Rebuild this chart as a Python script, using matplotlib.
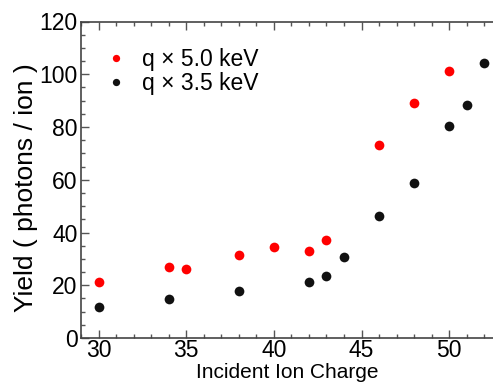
import numpy as np
import matplotlib
matplotlib.use("Agg")
import matplotlib.pyplot as plt
from matplotlib.ticker import MultipleLocator

plt.rcParams['font.family'] = ['Liberation Sans', 'DejaVu Sans']

# q x 5.0 keV series
charge_50 = [30, 34, 35, 38, 40, 42, 43, 46, 48, 50]
yield_50 = [21.1, 26.8, 26.1, 31.4, 34.4, 32.8, 37.0, 73.3, 89.1, 101.1]

# q x 3.5 keV series
charge_35 = [30, 34, 38, 42, 43, 44, 46, 48, 50, 51, 52]
yield_35 = [11.9, 14.9, 17.7, 21.2, 23.5, 30.7, 46.2, 58.6, 80.5, 88.5, 104.1]

labels = ["q \u00d7 5.0 keV", "q \u00d7 3.5 keV"]

fig = plt.figure(figsize=(4.93, 3.87), dpi=100)
ax = fig.add_axes([81 / 493, 49 / 387, 412 / 493, 316.5 / 387])

ax.plot(charge_50, yield_50, 'o', color='#ff0000', markersize=7, mec='none', label=labels[0])
ax.plot(charge_35, yield_35, 'o', color='#111111', markersize=7, mec='none', label=labels[1])

ax.set_xlim(29, 52.5)
ax.set_ylim(0, 120)
ax.xaxis.set_major_locator(MultipleLocator(5))
ax.xaxis.set_minor_locator(MultipleLocator(1))
ax.yaxis.set_major_locator(MultipleLocator(20))
ax.yaxis.set_minor_locator(MultipleLocator(5))

ax.tick_params(which='both', direction='in', top=True, right=False,
               color='#555555', labelsize=16.5)
ax.tick_params(axis='x', pad=1)
ax.tick_params(axis='y', pad=2.5)
ax.tick_params(which='major', length=6, width=1)
ax.tick_params(which='minor', length=3, width=1)

for s in ['left', 'bottom', 'top']:
    ax.spines[s].set_color('#444444')
    ax.spines[s].set_linewidth(1.2)
ax.spines['right'].set_visible(False)

# x label sits right at the bottom edge, like the reference, but kept inside
ax.set_xlabel("Incident Ion Charge", fontsize=15)
ax.set_ylabel("Yield ( photons / ion )", fontsize=19)
ax.xaxis.set_label_coords(0.5, -0.0795)
ax.yaxis.set_label_coords(-0.105, 0.4755)

ax.legend(loc='upper left', bbox_to_anchor=(0.033, 0.945), frameon=False,
          fontsize=16.5, handletextpad=0.55, labelspacing=0.05,
          borderaxespad=0, handlelength=1.1, markerscale=0.75)

fig.savefig("out.png", dpi=100)
